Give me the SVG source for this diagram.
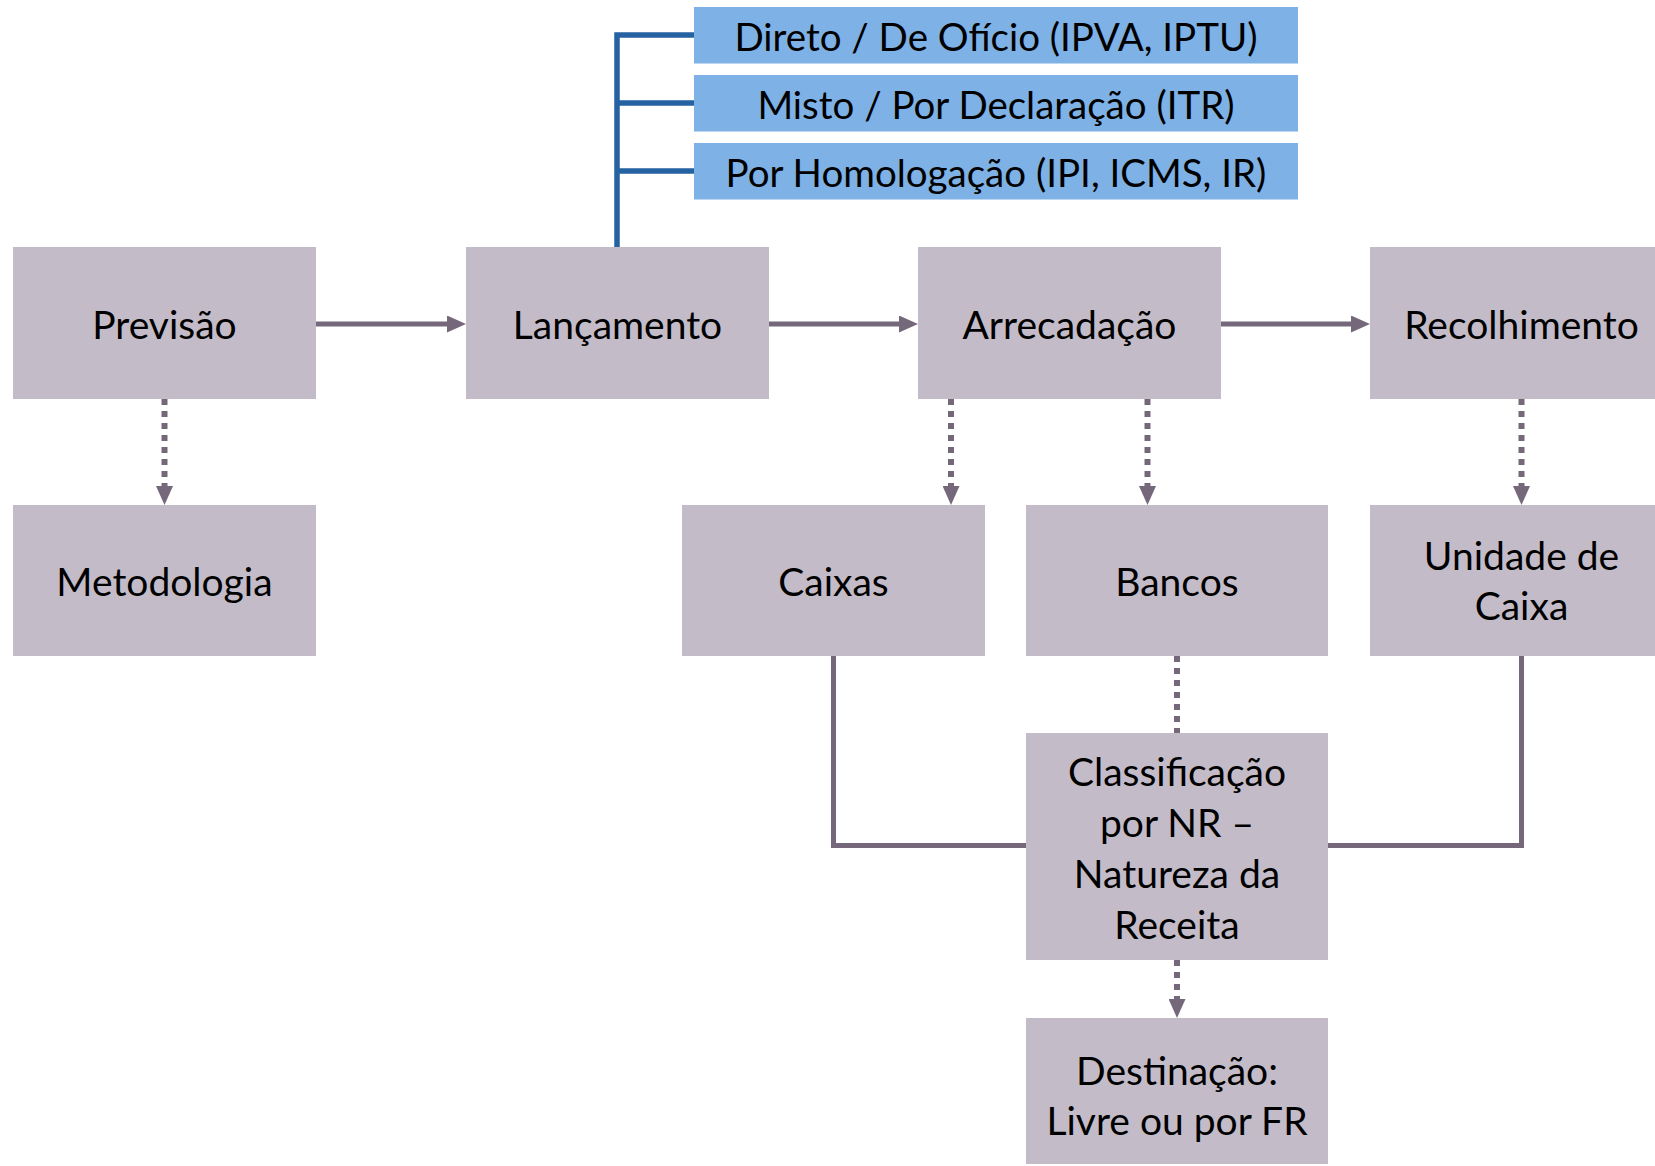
<svg xmlns="http://www.w3.org/2000/svg" width="1655" height="1166" viewBox="0 0 1655 1166">
  <style>
    .box { fill: #C3BCC8; }
    .blue { fill: #7EB1E5; }
    .t { font-family: Lato, "Open Sans", "Liberation Sans", sans-serif; font-size: 39px; fill: #000; text-anchor: middle; }
    .tb { font-size: 38.5px; }
    .solid { stroke: #75687A; stroke-width: 5; fill: none; }
    .dot { stroke: #75687A; stroke-width: 6; fill: none; stroke-dasharray: 6 6; }
    .bl { stroke: #2462A2; stroke-width: 5.5; fill: none; }
  </style>
  <defs>
    <marker id="ah" viewBox="0 0 19 17" refX="0" refY="8.5" markerWidth="19" markerHeight="17" markerUnits="userSpaceOnUse" orient="auto">
      <path d="M0,0 L19,8.5 L0,17 z" fill="#75687A"/>
    </marker>
  </defs>
  <rect width="1655" height="1166" fill="#FFFFFF"/>

  <g id="connectors">
    <path class="bl" d="M617,247 V35 H694 M617,103 H694 M617,171 H694"/>
    <line class="solid" x1="316" y1="324" x2="447" y2="324" marker-end="url(#ah)"/>
    <line class="solid" x1="769" y1="324" x2="899" y2="324" marker-end="url(#ah)"/>
    <line class="solid" x1="1221" y1="324" x2="1351" y2="324" marker-end="url(#ah)"/>
    <line class="dot" x1="164.5" y1="399" x2="164.5" y2="486" marker-end="url(#ah)"/>
    <line class="dot" x1="951" y1="399" x2="951" y2="486" marker-end="url(#ah)"/>
    <line class="dot" x1="1147.5" y1="399" x2="1147.5" y2="486" marker-end="url(#ah)"/>
    <line class="dot" x1="1521.5" y1="399" x2="1521.5" y2="486" marker-end="url(#ah)"/>
    <line class="dot" x1="1177" y1="656" x2="1177" y2="733"/>
    <line class="dot" x1="1177" y1="960" x2="1177" y2="999" marker-end="url(#ah)"/>
    <path class="solid" d="M833.5,656 V845.5 H1026"/>
    <path class="solid" d="M1521.5,656 V845.5 H1328"/>
  </g>

  <g id="tipo-direto">
    <rect class="blue" x="694" y="7" width="604" height="56.5"/>
    <text class="t tb" x="996" y="51">Direto / De Ofício (IPVA, IPTU)</text>
  </g>
  <g id="tipo-misto">
    <rect class="blue" x="694" y="75" width="604" height="56.5"/>
    <text class="t tb" x="996" y="119">Misto / Por Declaração (ITR)</text>
  </g>
  <g id="tipo-homologacao">
    <rect class="blue" x="694" y="143" width="604" height="56.5"/>
    <text class="t tb" x="996" y="187">Por Homologação (IPI, ICMS, IR)</text>
  </g>

  <g id="previsao">
    <rect class="box" x="13" y="247" width="303" height="152"/>
    <text class="t" x="164.5" y="339">Previsão</text>
  </g>
  <g id="lancamento">
    <rect class="box" x="466" y="247" width="303" height="152"/>
    <text class="t" x="617.5" y="339">Lançamento</text>
  </g>
  <g id="arrecadacao">
    <rect class="box" x="918" y="247" width="303" height="152"/>
    <text class="t" x="1069.5" y="339">Arrecadação</text>
  </g>
  <g id="recolhimento">
    <rect class="box" x="1370" y="247" width="303" height="152"/>
    <text class="t" x="1521.5" y="339">Recolhimento</text>
  </g>
  <g id="metodologia">
    <rect class="box" x="13" y="505" width="303" height="151"/>
    <text class="t" x="164.5" y="596">Metodologia</text>
  </g>
  <g id="caixas">
    <rect class="box" x="682" y="505" width="303" height="151"/>
    <text class="t" x="833.5" y="596">Caixas</text>
  </g>
  <g id="bancos">
    <rect class="box" x="1026" y="505" width="302" height="151"/>
    <text class="t" x="1177" y="596">Bancos</text>
  </g>
  <g id="unidade-de-caixa">
    <rect class="box" x="1370" y="505" width="303" height="151"/>
    <text class="t" x="1521.5" y="570">Unidade de</text>
    <text class="t" x="1521.5" y="620">Caixa</text>
  </g>
  <g id="classificacao">
    <rect class="box" x="1026" y="733" width="302" height="227"/>
    <text class="t" x="1177" y="786">Classificação</text>
    <text class="t" x="1177" y="837">por NR –</text>
    <text class="t" x="1177" y="888">Natureza da</text>
    <text class="t" x="1177" y="939">Receita</text>
  </g>
  <g id="destinacao">
    <rect class="box" x="1026" y="1018" width="302" height="146"/>
    <text class="t" x="1177" y="1085">Destinação:</text>
    <text class="t" x="1177" y="1135">Livre ou por FR</text>
  </g>
</svg>
